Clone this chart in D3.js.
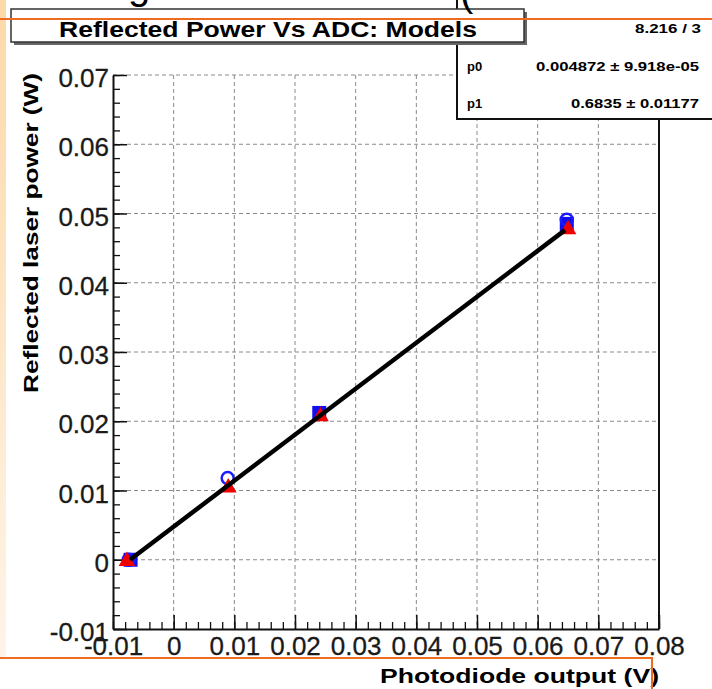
<!DOCTYPE html>
<html>
<head>
<meta charset="utf-8">
<script src="https://cdn.jsdelivr.net/npm/d3@7"></script>
<style>
  body { margin: 0; background: #fff; }
  svg { display: block; font-family: "Liberation Sans", Arial, sans-serif; }
</style>
</head>
<body>
<div id="chart"></div>
<script>
// values
const xTicks = [-0.01, 0, 0.01, 0.02, 0.03, 0.04, 0.05, 0.06, 0.07, 0.08];
const yTicks = [-0.01, 0, 0.01, 0.02, 0.03, 0.04, 0.05, 0.06, 0.07];

const blueCircleX = [-0.0074, 0.0089, 0.0648];
const blueCircleY = [0.0, 0.0118, 0.0491];
const blueSquareX = [-0.0071, 0.0240, 0.0648];
const blueSquareY = [0.0, 0.0212, 0.0485];
const redTriX = [-0.0077, 0.0090, 0.0242, 0.0650];
const redTriY = [-0.0002, 0.0104, 0.0207, 0.0477];

const fitX = [-0.0072, 0.0645];
const fitY = [0.0, 0.0476];

const titleText = "Reflected Power Vs ADC: Models";
const xTitle = "Photodiode output (V)";
const yTitle = "Reflected laser power (W)";
const statNames = ["", "p0", "p1"];
const statValues = ["8.216 / 3", "0.004872 \u00b1 9.918e-05", "0.6835 \u00b1 0.01177"];

function render_chart(div) {
    let w = 712, h = 689;
    let left = 113, right = 659, top = 75, bottom = 629;

    let svg = d3.select("#" + div)
        .append("svg")
        .attr("width", w)
        .attr("height", h);

    // slide background leftovers
    let grad = svg.append("defs").append("linearGradient")
        .attr("id", "strip")
        .attr("x1", 0).attr("y1", 0).attr("x2", 0).attr("y2", 1);
    grad.append("stop").attr("offset", "0").attr("stop-color", "#fcd9a8");
    grad.append("stop").attr("offset", "1").attr("stop-color", "#fff4e8");
    svg.append("rect")
        .attr("x", 0).attr("y", 0).attr("width", 6).attr("height", 657)
        .attr("fill", "url(#strip)");

    let x = d3.scaleLinear().domain([-0.01, 0.08]).range([left, right]);
    let y = d3.scaleLinear().domain([-0.01, 0.07]).range([bottom, top]);

    let fmt = function(v) { return Math.abs(v) < 1e-9 ? "0" : v.toFixed(2); };

    // dotted grid
    let grid = svg.append("g")
        .attr("stroke", "#8a8a8a")
        .attr("stroke-width", 1)
        .attr("stroke-dasharray", "4,3");
    grid.selectAll(".gx")
        .data(xTicks.slice(1, -1))
        .enter()
        .append("line")
        .attr("x1", d => x(d)).attr("x2", d => x(d))
        .attr("y1", top).attr("y2", bottom);
    grid.selectAll(".gy")
        .data(yTicks.slice(1))
        .enter()
        .append("line")
        .attr("x1", left).attr("x2", right)
        .attr("y1", d => y(d)).attr("y2", d => y(d));

    // right frame
    svg.append("line")
        .attr("x1", right).attr("x2", right)
        .attr("y1", top).attr("y2", bottom)
        .attr("stroke", "#111").attr("stroke-width", 2);

    // minor ticks
    let minorX = d3.range(-0.01, 0.08001, 0.002);
    let minorY = d3.range(-0.01, 0.07001, 0.002);
    svg.append("g")
        .attr("transform", "translate(0," + bottom + ")")
        .call(d3.axisBottom(x).tickValues(minorX).tickSize(-7).tickSizeOuter(0).tickFormat(""))
        .call(g => g.select(".domain").remove())
        .selectAll("line").attr("stroke", "#111").attr("stroke-width", 1.3);
    svg.append("g")
        .attr("transform", "translate(" + left + ",0)")
        .call(d3.axisLeft(y).tickValues(minorY).tickSize(-7).tickSizeOuter(0).tickFormat(""))
        .call(g => g.select(".domain").remove())
        .selectAll("line").attr("stroke", "#111").attr("stroke-width", 1.3);

    // major axes
    let xAxis = svg.append("g")
        .attr("transform", "translate(0," + bottom + ")")
        .call(d3.axisBottom(x).tickValues(xTicks).tickSize(-14).tickSizeOuter(0).tickPadding(8).tickFormat(fmt));
    let yAxis = svg.append("g")
        .attr("transform", "translate(" + left + ",0)")
        .call(d3.axisLeft(y).tickValues(yTicks).tickSize(-14).tickSizeOuter(0).tickPadding(4).tickFormat(fmt));
    [xAxis, yAxis].forEach(function(a) {
        a.select(".domain").attr("stroke", "#111").attr("stroke-width", 2);
        a.selectAll("line").attr("stroke", "#111").attr("stroke-width", 1.5);
        a.selectAll("text")
            .style("font-size", "26px")
            .style("font-family", "'Liberation Sans', Arial, sans-serif")
            .attr("fill", "#1a1a1a")
            .attr("stroke", "#1a1a1a")
            .attr("stroke-width", 0.3);
    });
    yAxis.selectAll("text").attr("dy", "0.45em");

    // markers
    let marks = svg.append("g");
    marks.selectAll(".sq")
        .data(d3.zip(blueSquareX, blueSquareY))
        .enter()
        .append("rect")
        .attr("x", d => x(d[0]) - 7).attr("y", d => y(d[1]) - 7)
        .attr("width", 14).attr("height", 14)
        .attr("fill", "#1010ee");
    marks.selectAll(".ci")
        .data(d3.zip(blueCircleX, blueCircleY))
        .enter()
        .append("circle")
        .attr("cx", d => x(d[0])).attr("cy", d => y(d[1]))
        .attr("r", 6)
        .attr("fill", "none")
        .attr("stroke", "#1a1aff")
        .attr("stroke-width", 2.5);
    let tri = d3.symbol().type(d3.symbolTriangle).size(120);
    marks.selectAll(".tr")
        .data(d3.zip(redTriX, redTriY))
        .enter()
        .append("path")
        .attr("d", tri)
        .attr("transform", d => "translate(" + x(d[0]) + "," + y(d[1]) + ")")
        .attr("fill", "#f00000");

    // fit line
    svg.append("path")
        .datum(d3.zip(fitX, fitY))
        .attr("d", d3.line().x(d => x(d[0])).y(d => y(d[1])))
        .attr("stroke", "#000")
        .attr("stroke-width", 4.5)
        .attr("fill", "none");

    // axis titles
    svg.append("text")
        .attr("x", 659).attr("y", 683)
        .attr("text-anchor", "end")
        .attr("textLength", 279).attr("lengthAdjust", "spacingAndGlyphs")
        .style("font-size", "21px").style("font-weight", "bold")
        .text(xTitle);
    svg.append("text")
        .attr("transform", "translate(38,393) rotate(-90)")
        .attr("textLength", 320).attr("lengthAdjust", "spacingAndGlyphs")
        .style("font-size", "21px").style("font-weight", "bold")
        .text(yTitle);

    // stats box
    svg.append("rect")
        .attr("x", 457).attr("y", -10).attr("width", 270).attr("height", 129)
        .attr("fill", "#fff").attr("stroke", "#111").attr("stroke-width", 2);
    let statY = [28, 66, 103];
    let statRight = [701, 699, 699];
    let statLen = [66, 163, 128];
    statValues.forEach(function(v, i) {
        svg.append("text")
            .attr("x", 467).attr("y", statY[i] + 5)
            .style("font-size", "13px").style("font-weight", "bold")
            .text(statNames[i]);
        svg.append("text")
            .attr("x", statRight[i]).attr("y", statY[i] + 5)
            .attr("text-anchor", "end")
            .attr("textLength", statLen[i]).attr("lengthAdjust", "spacingAndGlyphs")
            .style("font-size", "13px").style("font-weight", "bold")
            .text(v);
    });

    // title box
    svg.append("rect")
        .attr("x", 14).attr("y", 12).attr("width", 513).attr("height", 33)
        .attr("fill", "#666");
    svg.append("rect")
        .attr("x", 11).attr("y", 9).attr("width", 513).attr("height", 33)
        .attr("fill", "#fff").attr("stroke", "#333").attr("stroke-width", 1.5);
    svg.append("text")
        .attr("x", 59).attr("y", 37)
        .attr("textLength", 418).attr("lengthAdjust", "spacingAndGlyphs")
        .style("font-size", "22px").style("font-weight", "bold")
        .text(titleText);

    // bits of the slide around the picture
    svg.append("text").attr("x", 128).attr("y", -1)
        .style("font-size", "40px").text("g");
    svg.append("text").attr("x", 460).attr("y", 6)
        .style("font-size", "40px").text("(");
    let orange = "#ef6b1f";
    svg.append("line").attr("x1", 0).attr("x2", w).attr("y1", 19).attr("y2", 19)
        .attr("stroke", orange).attr("stroke-width", 2);
    svg.append("polyline")
        .attr("points", "0,658 652,658 652," + h)
        .attr("fill", "none").attr("stroke", orange).attr("stroke-width", 2);
}

render_chart("chart");
</script>
</body>
</html>
